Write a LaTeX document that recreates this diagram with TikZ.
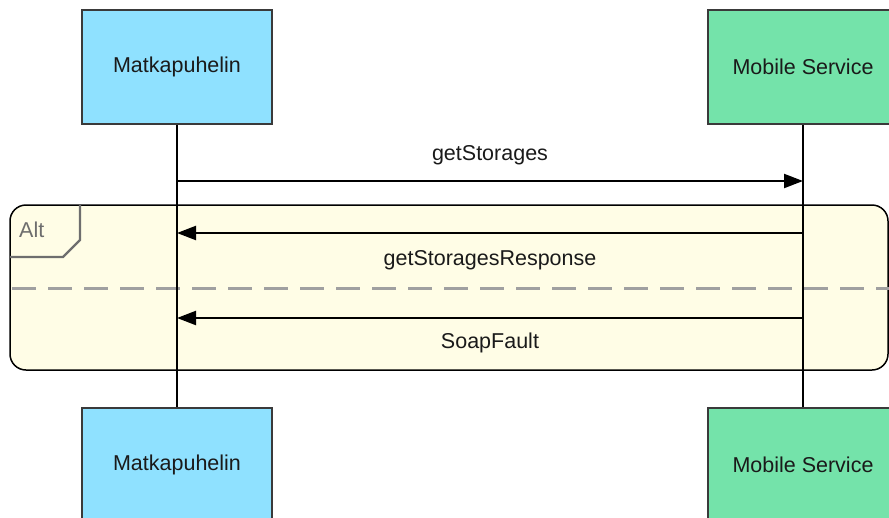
\documentclass[tikz,border=0pt]{standalone}
\usepackage{fontspec}
\setmainfont{Liberation Sans}
\usetikzlibrary{arrows.meta}
\definecolor{phonefill}{HTML}{8FE1FF}
\definecolor{servicefill}{HTML}{74E3AA}
\definecolor{framefill}{HTML}{FFFDE6}
\definecolor{boxline}{HTML}{3A3A3A}
\definecolor{tabline}{HTML}{6E6E6E}
\definecolor{dashline}{HTML}{A0A0A0}
\definecolor{labeltext}{HTML}{1A1A1A}
\tikzset{
  bigfont/.style={font=\fontsize{21.5}{25}\selectfont},
  actor/.style={draw=boxline, line width=1.8pt, minimum width=190pt,
    minimum height=114pt, inner sep=0pt, bigfont, text=labeltext},
  lifeline/.style={line width=1.8pt, black},
  msg/.style={line width=2.2pt, black, -{Triangle[length=19pt,width=14pt]}},
  msglabel/.style={bigfont, text=labeltext, inner sep=0pt},
  altframe/.style={draw=black, line width=1.5pt, fill=framefill, rounded corners=16pt},
  alttab/.style={draw=tabline, line width=2.2pt},
  divider/.style={draw=dashline, line width=3pt, dash pattern=on 24pt off 12pt}
}
\begin{document}
\begin{tikzpicture}[x=1pt, y=-1pt]
  \useasboundingbox (0,0) rectangle (889,517);
  \clip (0,0) rectangle (889,517);

  % combined fragment
  \draw[altframe] (10,205) rectangle (888,370);
  \draw[divider] (12,288) -- (889,288);
  \draw[alttab] (10,257) -- (63,257) -- (80,240) -- (80,205);
  \node[bigfont, text=tabline, anchor=west, inner sep=0pt] (alt) at (19,230) {Alt};

  % participants
  \node[actor, fill=phonefill] (phoneTop) at (177,67) {Matkapuhelin};
  \node[actor, fill=servicefill] (svcTop) at (803,67) {Mobile Service};
  \node[actor, fill=phonefill] (phoneBot) at (177,465) {Matkapuhelin};
  \node[actor, fill=servicefill] (svcBot) at (803,465) {Mobile Service};

  % lifelines
  \draw[lifeline] (phoneTop.south) -- (phoneBot.north);
  \draw[lifeline] (svcTop.south) -- (svcBot.north);

  % message heights
  \coordinate (y1) at (0,181);
  \coordinate (y2) at (0,233);
  \coordinate (y3) at (0,318);

  \coordinate (p1) at (phoneTop.south |- y1);
  \coordinate (s1) at (svcTop.south |- y1);
  \coordinate (p2) at (phoneTop.south |- y2);
  \coordinate (s2) at (svcTop.south |- y2);
  \coordinate (p3) at (phoneTop.south |- y3);
  \coordinate (s3) at (svcTop.south |- y3);

  \draw[msg] (p1) -- (s1);
  \draw[msg] (s2) -- (p2);
  \draw[msg] (s3) -- (p3);

  \node[msglabel] (l1) at (490,155) {getStorages};
  \node[msglabel] (l2) at (490,260) {getStoragesResponse};
  \node[msglabel] (l3) at (490,343) {SoapFault};
\end{tikzpicture}
\end{document}
